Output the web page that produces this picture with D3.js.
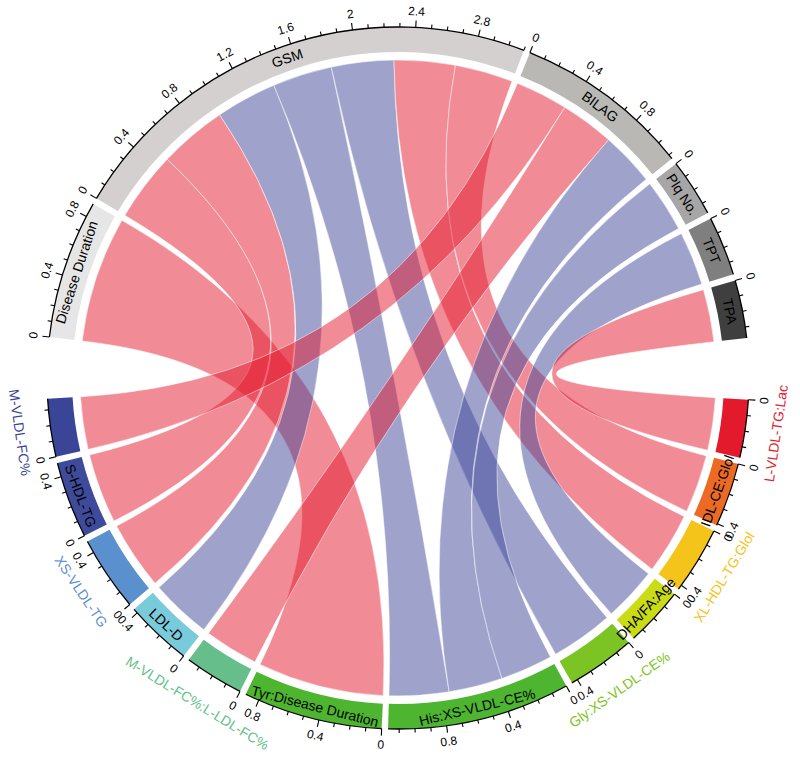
<!DOCTYPE html>
<html><head><meta charset="utf-8">
<script src="https://cdn.jsdelivr.net/npm/d3@7"></script>
<style>
body{margin:0;background:#fff}
text{font-family:Arial,"Liberation Sans",sans-serif}
</style>
</head><body>
<svg id="chart" width="800" height="758"></svg>
<script>
// ---------------- data ----------------
const sectorNames = ["Disease Duration","GSM","BILAG","Plq No.","TPT","TPA",
  "L-VLDL-TG:Lac","IDL-CE:Glol","XL-HDL-TG:Glol","DHA/FA:Age","Gly:XS-VLDL-CE%",
  "His:XS-VLDL-CE%","Tyr:Disease Duration","M-VLDL-FC%:L-LDL-FC%","LDL-D",
  "XS-VLDL-TG","S-HDL-TG","M-VLDL-FC%"];
const sectorColors = ["#E6E6E6","#D3D0CF","#B9B8B5","#A6A6A6","#7F7F7F","#3F3F3F",
  "#E31A2C","#EC6A24","#F4C41A","#C9DC16","#7CC423","#4DB52F","#4DB52F","#66BF8A",
  "#79CADA","#5B90CE","#3E4B9B","#3A4597"];
// 1 = name written outside the axis in sector colour, 0 = inside the track
const labelOutside = [0,0,0,0,0,0, 1,0,1,0,1,0,0,1,0,1,0,1];
const topGroupCount = 6;

const linkSource = ["Disease Duration","GSM","GSM","GSM","GSM","GSM","GSM","GSM",
  "BILAG","BILAG","BILAG","Plq No.","TPT","TPA"];
const linkTarget = ["Tyr:Disease Duration","S-HDL-TG","XS-VLDL-TG","LDL-D",
  "His:XS-VLDL-CE%","Gly:XS-VLDL-CE%","XL-HDL-TG:Glol","IDL-CE:Glol",
  "M-VLDL-FC%","M-VLDL-FC%:L-LDL-FC%","His:XS-VLDL-CE%","His:XS-VLDL-CE%",
  "DHA/FA:Age","L-VLDL-TG:Lac"];
const linkValue = [0.89,0.49,0.48,0.43,0.42,0.44,0.43,0.41,0.37,0.38,0.38,0.37,0.38,0.37];
const linkSign  = [1,1,1,-1,-1,-1,1,1,1,1,-1,-1,-1,1];

const majorStep = 0.4, minorStep = 0.1;

// ---------------- layout ----------------
const W = 800, H = 758, cx = 398, cy = 378;
const rLink = 318, rIn = 326, rOut = 351;
const smallGap = 1.05, bigGap = 10.1, startDeg = 276.7;

const nS = sectorNames.length;
const totals = sectorNames.map(s => {
  let t = 0;
  linkSource.forEach((d,i)=>{ if (d===s) t += linkValue[i]; });
  linkTarget.forEach((d,i)=>{ if (d===s) t += linkValue[i]; });
  return t;
});
const grand = d3.sum(totals);
const gaps = sectorNames.map((s,i)=> (i===topGroupCount-1 || i===nS-1) ? bigGap : smallGap);
const k = (360 - d3.sum(gaps)) / grand;

const sectors = [];
let a = startDeg;
sectorNames.forEach((s,i)=>{
  const start = a, end = a + totals[i]*k;
  sectors.push({name:s, i, start, end, total: totals[i],
    scale: d3.scaleLinear().domain([0, totals[i]]).range([start, end])});
  a = end + gaps[i];
});
const byName = new Map(sectors.map(s=>[s.name,s]));
const mid = s => (s.start + s.end)/2;

// assign link ends within each sector (sorted to reduce crossings)
const ends = sectors.map(()=>[]);
linkSource.forEach((src,i)=>{
  const S = byName.get(src), T = byName.get(linkTarget[i]);
  ends[S.i].push({link:i, side:"s", partner:T});
  ends[T.i].push({link:i, side:"t", partner:S});
});
const linkAngles = linkValue.map(()=>({}));
sectors.forEach(S=>{
  const list = ends[S.i];
  list.forEach(e=>{ e.key = (((mid(S) - mid(e.partner)) % 360) + 360) % 360; });
  list.sort((x,y)=>x.key-y.key);
  let cum = 0;
  list.forEach(e=>{
    const v = linkValue[e.link];
    linkAngles[e.link][e.side] = [S.scale(cum), S.scale(cum+v)];
    cum += v;
  });
});

// ---------------- drawing ----------------
const rad = d => d*Math.PI/180;
const svg = d3.select("#chart");
const g = svg.append("g").attr("transform",`translate(${cx},${cy})`);
const pt = (deg, r) => [r*Math.sin(rad(deg)), -r*Math.cos(rad(deg))];

// links
const ribbon = d3.ribbon().radius(rLink);
const colorPos = "#E3192D", colorNeg = "#3F4799";
g.append("g").selectAll("path").data(linkValue.map((v,i)=>i)).join("path")
  .attr("d", i => ribbon({
    source:{startAngle: rad(linkAngles[i].s[0]), endAngle: rad(linkAngles[i].s[1])},
    target:{startAngle: rad(linkAngles[i].t[0]), endAngle: rad(linkAngles[i].t[1])}
  }))
  .attr("fill", i => linkSign[i] > 0 ? colorPos : colorNeg)
  .attr("fill-opacity", 0.5)
  .attr("stroke", "#fff").attr("stroke-width", 0.6).attr("stroke-opacity", 0.8);

// tracks
const arc = d3.arc().innerRadius(rIn).outerRadius(rOut);
const tg = g.append("g");
tg.selectAll("path").data(sectors).join("path")
  .attr("d", s => arc({startAngle: rad(s.start), endAngle: rad(s.end)}))
  .attr("fill", (s)=>sectorColors[s.i]);

// axes
const axG = g.append("g");
sectors.forEach(S=>{
  const isTop = S.i < topGroupCount;
  const lineP = d3.path();
  const p0 = pt(S.start, rOut);
  lineP.moveTo(p0[0], p0[1]);
  lineP.arc(0,0,rOut, rad(S.start)-Math.PI/2, rad(S.end)-Math.PI/2, false);
  axG.append("path").attr("d", lineP.toString()).attr("fill","none")
    .attr("stroke","#000").attr("stroke-width",1.3);
  const nT = Math.floor(S.total/minorStep + 1e-6);
  for (let j=0;j<=nT;j++){
    const v = j*minorStep;
    const major = (j % Math.round(majorStep/minorStep)) === 0;
    const th = S.scale(v);
    const q1 = pt(th, rOut), q2 = pt(th, rOut + (major?7:4));
    axG.append("line").attr("x1",q1[0]).attr("y1",q1[1]).attr("x2",q2[0]).attr("y2",q2[1])
      .attr("stroke","#000").attr("stroke-width",1.1);
    if (major){
      const q = pt(th, rOut+16);
      const rot = isTop ? th : th-180;
      axG.append("text").attr("transform",`translate(${q[0]},${q[1]}) rotate(${rot})`)
        .attr("text-anchor","middle").attr("dominant-baseline","central")
        .attr("font-size",12).attr("fill","#000")
        .text(String(Math.round(v*10)/10));
    }
  }
  // sector names
  const m = mid(S);
  const rot = isTop ? m : m-180;
  if (labelOutside[S.i]){
    const q = pt(m, 382);
    axG.append("text").attr("transform",`translate(${q[0]},${q[1]}) rotate(${rot})`)
      .attr("text-anchor","middle").attr("dominant-baseline","central")
      .attr("font-size",14).attr("fill",sectorColors[S.i]).text(S.name);
  } else {
    const q = pt(m, (rIn+rOut)/2);
    axG.append("text").attr("transform",`translate(${q[0]},${q[1]}) rotate(${rot})`)
      .attr("text-anchor","middle").attr("dominant-baseline","central")
      .attr("font-size",14).attr("fill","#000").text(S.name);
  }
});
</script>
</body></html>
